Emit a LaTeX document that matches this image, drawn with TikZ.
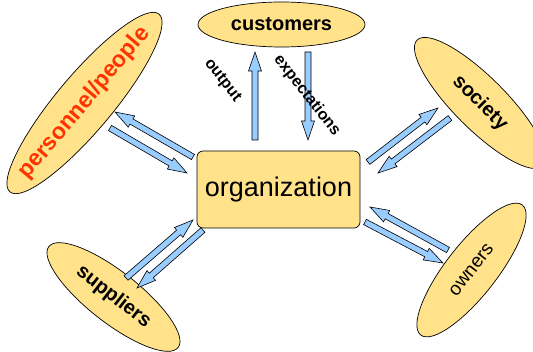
\documentclass[tikz,border=0pt]{standalone}
\usepackage{fontspec}
\setmainfont{Liberation Sans}
\usepackage{xcolor}
\usetikzlibrary{shapes.geometric,calc}

\definecolor{ovalfill}{HTML}{FFE28A}
\definecolor{flowblue}{HTML}{99CCFF}
\definecolor{staffred}{HTML}{FF3300}

\newcommand{\sized}[1]{\fontsize{#1}{#1}\selectfont}

\tikzset{
  oval/.style={ellipse, draw, fill=ovalfill, inner sep=0pt, line width=0.7pt},
  flow/.style={draw, fill=flowblue, line width=0.6pt, line join=miter},
}

% block arrow from #1 to #2
\newcommand{\flowarrow}[2]{%
  \coordinate (neck) at ($(#2)!19pt!(#1)$);
  \draw[flow] ($(#1)!3pt!90:(#2)$) -- ($(neck)!3pt!90:(#2)$) -- ($(neck)!6.5pt!90:(#2)$)
    -- (#2) -- ($(neck)!6.5pt!-90:(#2)$) -- ($(neck)!3pt!-90:(#2)$) -- ($(#1)!3pt!-90:(#2)$) -- cycle;}

\begin{document}
\begin{tikzpicture}[x=1pt,y=-1pt]
    \useasboundingbox (0,0) rectangle (533,352);
    \clip (0,0) rectangle (533,352);

    % Define nodes
    \node[draw, rounded corners=6pt, fill=ovalfill, line width=0.7pt, minimum width=163pt, minimum height=77pt, font=\sized{27}] (org) at (278.5,189.5) {organization};
    \node[oval, minimum width=167pt, minimum height=45pt, font=\bfseries\sized{20}] (cust) at (281.5,24.5) {customers};
    \node[oval, rotate=50, minimum width=232pt, minimum height=56pt] (staff) at (84.5,103) {};
    \node[rotate=50, text=staffred, font=\bfseries\sized{23}] (stafftext) at (staff) {personnel/people};
    \node[oval, rotate=-45, minimum width=178pt, minimum height=52pt, font=\bfseries\sized{20}] (soc) at (480,103) {society};
    \node[oval, rotate=52, minimum width=165pt, minimum height=51pt, font=\sized{19}] (own) at (471.5,270) {owners};
    \node[oval, rotate=-38, minimum width=164pt, minimum height=51pt, font=\bfseries\sized{20}] (sup) at (113.5,297) {suppliers};

    % Arrow ends
    \coordinate (out-a) at (255,140);      \coordinate (out-b) at (255,52);
    \coordinate (exp-a) at (308,52);       \coordinate (exp-b) at (308,140);
    \coordinate (staff-in-a) at (193,157); \coordinate (staff-in-b) at (115,112);
    \coordinate (staff-out-a) at (110,128);\coordinate (staff-out-b) at (187,173);
    \coordinate (soc-in-a) at (368,162);   \coordinate (soc-in-b) at (438,108);
    \coordinate (soc-out-a) at (450,118);  \coordinate (soc-out-b) at (378,173);
    \coordinate (own-out-a) at (448,250);  \coordinate (own-out-b) at (370,207);
    \coordinate (own-in-a) at (365,222);   \coordinate (own-in-b) at (443,263);
    \coordinate (sup-out-a) at (126,278);  \coordinate (sup-out-b) at (193,220);
    \coordinate (sup-in-a) at (203,230);   \coordinate (sup-in-b) at (137,288);

    % Draw arrows
    \flowarrow{out-a}{out-b}
    \flowarrow{exp-a}{exp-b}
    \flowarrow{staff-in-a}{staff-in-b}
    \flowarrow{staff-out-a}{staff-out-b}
    \flowarrow{soc-in-a}{soc-in-b}
    \flowarrow{soc-out-a}{soc-out-b}
    \flowarrow{own-out-a}{own-out-b}
    \flowarrow{own-in-a}{own-in-b}
    \flowarrow{sup-out-a}{sup-out-b}
    \flowarrow{sup-in-a}{sup-in-b}

    % Labels
    \node[rotate=-52, font=\bfseries\sized{16}] (outlbl) at (222.5,80.5) {output};
    \node[rotate=-52, font=\bfseries\sized{16}] (explbl) at (307,95.5) {expectations};
\end{tikzpicture}
\end{document}
